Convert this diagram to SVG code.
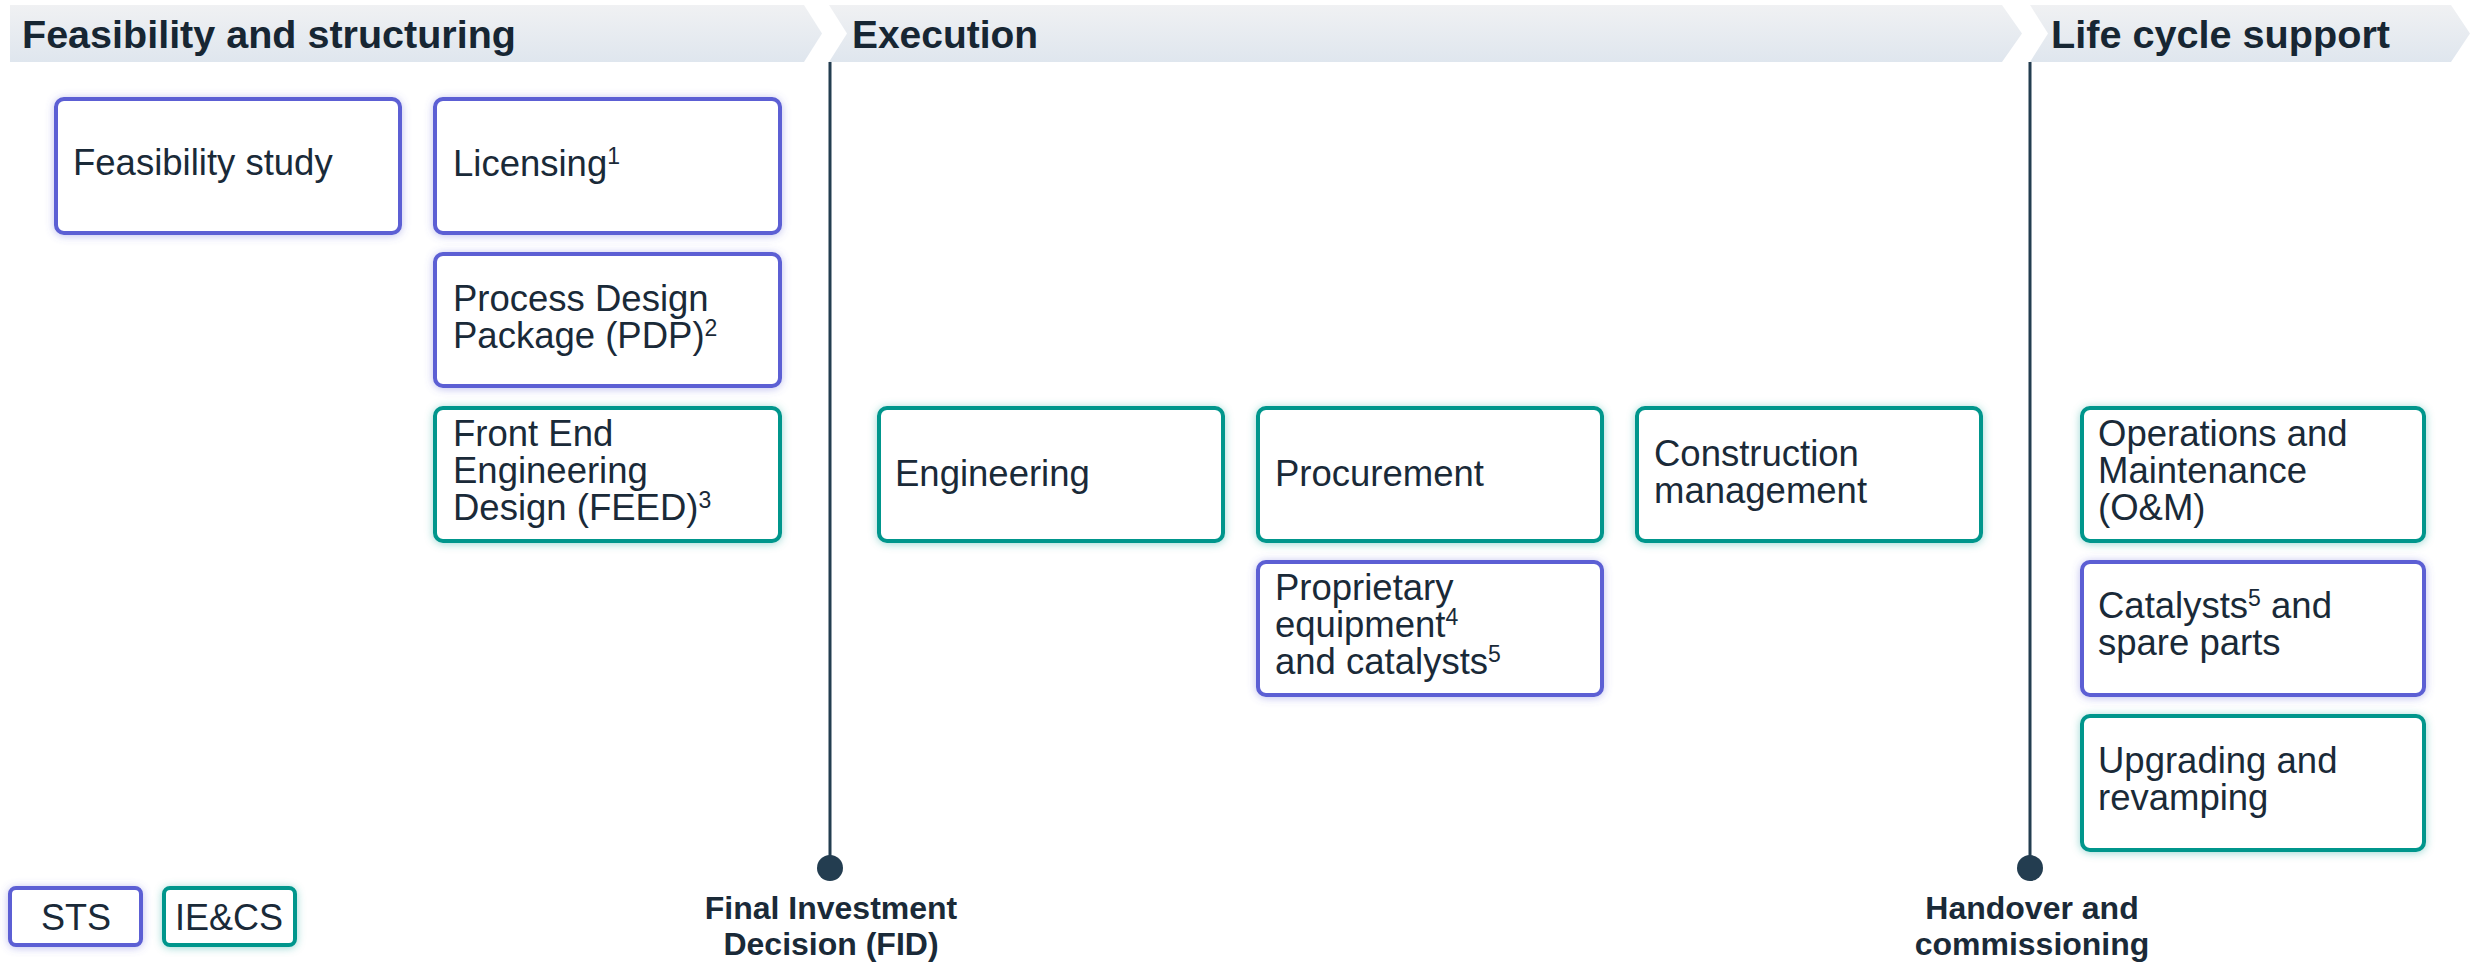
<svg xmlns="http://www.w3.org/2000/svg" width="2475" height="965" viewBox="0 0 2475 965">
<defs>
<linearGradient id="hdr" x1="0" y1="0" x2="0" y2="1">
<stop offset="0" stop-color="#f0f1f3"/>
<stop offset="1" stop-color="#dfe6ee"/>
</linearGradient>
<filter id="glowP" x="-10%" y="-20%" width="120%" height="140%">
<feDropShadow dx="0" dy="1" stdDeviation="4.5" flood-color="#5b5fd6" flood-opacity="0.4"/>
</filter>
<filter id="glowT" x="-10%" y="-20%" width="120%" height="140%">
<feDropShadow dx="0" dy="1" stdDeviation="4.5" flood-color="#009a90" flood-opacity="0.4"/>
</filter>
</defs>
<style>
.hdrtxt{font-family:"Liberation Sans",Arial,sans-serif;font-weight:bold;font-size:39px;fill:#172633}
.t{font-family:"Liberation Sans",Arial,sans-serif;font-size:36.5px;fill:#1a2a38}
.sup{font-size:23px}
.sts{fill:#ffffff;stroke:#5b5ed4;stroke-width:4;filter:url(#glowP)}
.iecs{fill:#ffffff;stroke:#00968c;stroke-width:4;filter:url(#glowT)}
.ms{stroke:#233d50;stroke-width:3;fill:none}
.dot{fill:#233d50}
.mst{font-family:"Liberation Sans",Arial,sans-serif;font-weight:bold;font-size:32px;fill:#1a2a38;text-anchor:middle}
.lg{font-family:"Liberation Sans",Arial,sans-serif;font-size:36px;fill:#1a2a38;text-anchor:middle}
</style>
<rect width="2475" height="965" fill="#ffffff"/>

<g id="phase-feasibility">
<path d="M10,5 H804 L822,33.5 L804,62 H10 Z" fill="url(#hdr)"/>
<text class="hdrtxt" x="22" y="48" textLength="494" lengthAdjust="spacingAndGlyphs">Feasibility and structuring</text>
</g>
<g id="phase-execution">
<path d="M829,5 H2002 L2022,33.5 L2002,62 H829 L847,33.5 Z" fill="url(#hdr)"/>
<text class="hdrtxt" x="852" y="48" textLength="186" lengthAdjust="spacingAndGlyphs">Execution</text>
</g>
<g id="phase-lifecycle">
<path d="M2030,5 H2451 L2470,33.5 L2451,62 H2030 L2048,33.5 Z" fill="url(#hdr)"/>
<text class="hdrtxt" x="2051" y="48" textLength="339" lengthAdjust="spacingAndGlyphs">Life cycle support</text>
</g>

<g id="connectors">
<line class="ms" x1="830" y1="62" x2="830" y2="866"/>
<circle class="dot" cx="830" cy="868" r="13"/>
<line class="ms" x1="2030" y1="62" x2="2030" y2="866"/>
<circle class="dot" cx="2030" cy="868" r="13"/>
</g>

<g id="milestone-fid">
<text class="mst" x="831" y="919">Final Investment</text>
<text class="mst" x="831" y="955">Decision (FID)</text>
</g>
<g id="milestone-handover">
<text class="mst" x="2032" y="919">Handover and</text>
<text class="mst" x="2032" y="955">commissioning</text>
</g>

<g id="feasibility-study">
<rect class="sts" x="56" y="99" width="344" height="134" rx="8"/>
<text class="t" x="73" y="175">Feasibility study</text>
</g>
<g id="licensing">
<rect class="sts" x="435" y="99" width="345" height="134" rx="8"/>
<text class="t" x="453" y="176">Licensing<tspan class="sup" dy="-12">1</tspan></text>
</g>
<g id="pdp">
<rect class="sts" x="435" y="254" width="345" height="132" rx="8"/>
<text class="t" x="453" y="311">Process Design</text>
<text class="t" x="453" y="348">Package (PDP)<tspan class="sup" dy="-12">2</tspan></text>
</g>
<g id="feed">
<rect class="iecs" x="435" y="408" width="345" height="133" rx="8"/>
<text class="t" x="453" y="446">Front End</text>
<text class="t" x="453" y="483">Engineering</text>
<text class="t" x="453" y="520">Design (FEED)<tspan class="sup" dy="-12">3</tspan></text>
</g>
<g id="engineering">
<rect class="iecs" x="879" y="408" width="344" height="133" rx="8"/>
<text class="t" x="895" y="486">Engineering</text>
</g>
<g id="procurement">
<rect class="iecs" x="1258" y="408" width="344" height="133" rx="8"/>
<text class="t" x="1275" y="486">Procurement</text>
</g>
<g id="construction-management">
<rect class="iecs" x="1637" y="408" width="344" height="133" rx="8"/>
<text class="t" x="1654" y="466">Construction</text>
<text class="t" x="1654" y="503">management</text>
</g>
<g id="proprietary-equipment">
<rect class="sts" x="1258" y="562" width="344" height="133" rx="8"/>
<text class="t" x="1275" y="600">Proprietary</text>
<text class="t" x="1275" y="637">equipment<tspan class="sup" dy="-12">4</tspan></text>
<text class="t" x="1275" y="674">and catalysts<tspan class="sup" dy="-12">5</tspan></text>
</g>
<g id="operations-maintenance">
<rect class="iecs" x="2082" y="408" width="342" height="133" rx="8"/>
<text class="t" x="2098" y="446">Operations and</text>
<text class="t" x="2098" y="483">Maintenance</text>
<text class="t" x="2098" y="520">(O&amp;M)</text>
</g>
<g id="catalysts-spare-parts">
<rect class="sts" x="2082" y="562" width="342" height="133" rx="8"/>
<text class="t" x="2098" y="618">Catalysts<tspan class="sup" dy="-12">5</tspan><tspan dy="12"> and</tspan></text>
<text class="t" x="2098" y="655">spare parts</text>
</g>
<g id="upgrading-revamping">
<rect class="iecs" x="2082" y="716" width="342" height="134" rx="8"/>
<text class="t" x="2098" y="773">Upgrading and</text>
<text class="t" x="2098" y="810">revamping</text>
</g>

<g id="legend-sts">
<rect class="sts" x="10" y="888" width="131" height="57" rx="6"/>
<text class="lg" x="76" y="930">STS</text>
</g>
<g id="legend-iecs">
<rect class="iecs" x="164" y="888" width="131" height="57" rx="6"/>
<text class="lg" x="229" y="930">IE&amp;CS</text>
</g>
</svg>
